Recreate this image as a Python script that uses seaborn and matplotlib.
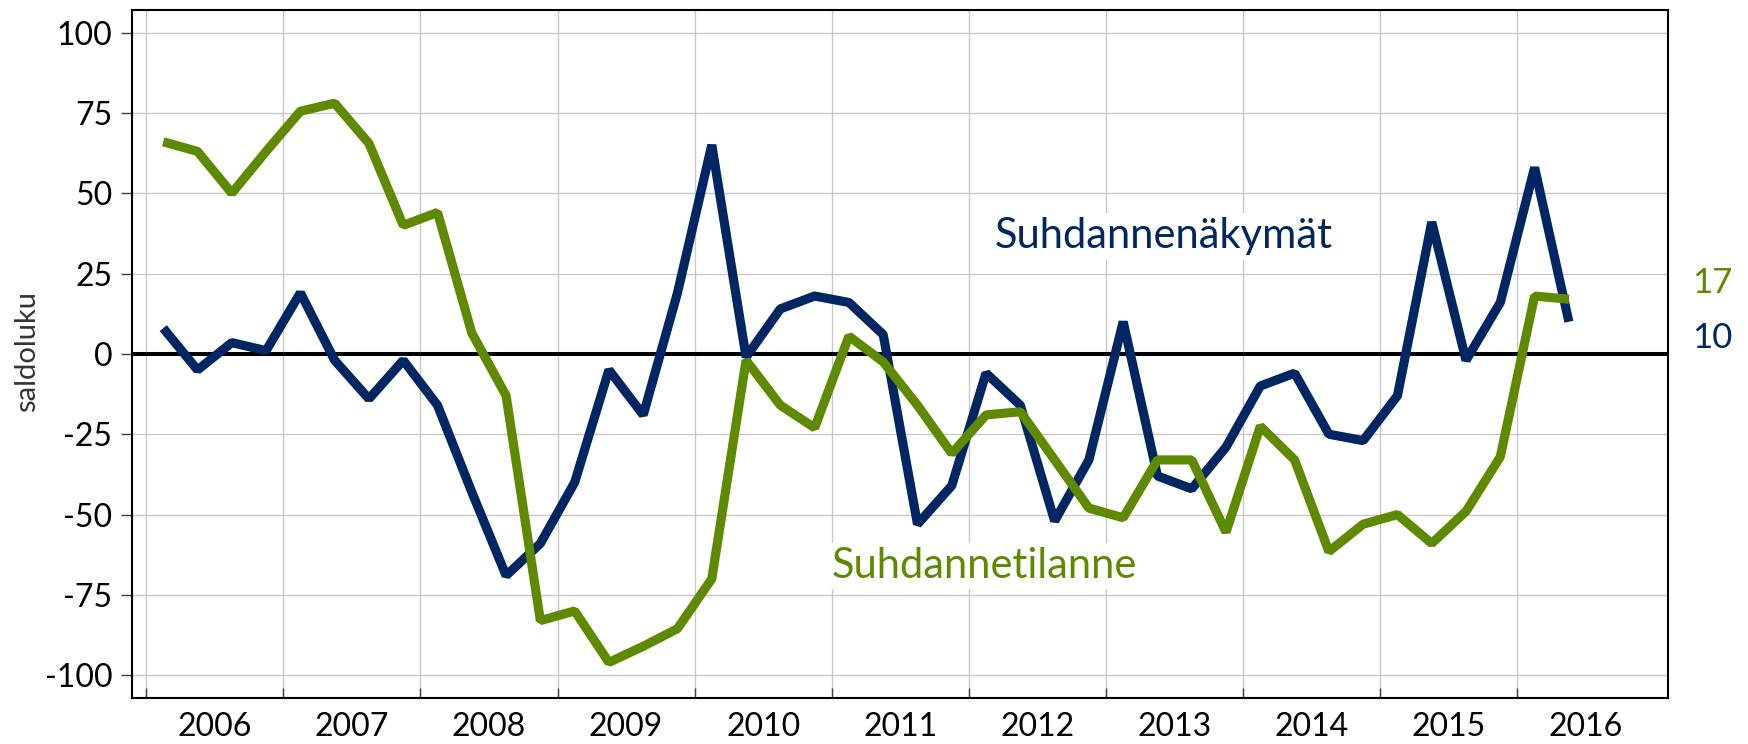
import matplotlib
matplotlib.use("Agg")
import matplotlib.pyplot as plt
from matplotlib.ticker import FixedLocator, NullFormatter
import seaborn as sns
import pandas as pd
import numpy as np

# quarterly data 2006Q1 - 2016Q2
quarters = [f"{y}Q{q}" for y in range(2006, 2017) for q in range(1, 5)][:42]

nakymat = [8, -5, 3.5, 1, 19, -2, -14, -2, -16, -43,
           -69, -59, -40, -5, -19, 19, 65, -1, 14, 18,
           16, 6, -53, -41, -6, -16, -52, -33, 10, -38,
           -42, -29, -10, -6, -25, -27, -13, 41, -2, 16,
           58, 10]

tilanne = [66, 63, 50, 63, 75.5, 78, 65.5, 40, 44, 6.5,
           -13, -83, -80, -96, -91, -85.5, -70, -2, -16, -23,
           5.5, -2.5, -16, -31, -19, -18, -33, -48, -51, -33,
           -33, -55.5, -22.5, -33, -61.5, -53, -50, -59, -49, -32,
           18, 17]

years = list(range(2006, 2017))
y_ticks = [-100, -75, -50, -25, 0, 25, 50, 75, 100]

NAVY = "#002663"
GREEN = "#5e8a00"

df = pd.DataFrame({
    "q": np.arange(len(quarters)),
    "Suhdannenäkymät": nakymat,
    "Suhdannetilanne": tilanne,
})

sns.set_theme(style="white")
plt.rcParams["font.family"] = ["Lato", "DejaVu Sans"]

fig = plt.figure(figsize=(17.49, 7.44), dpi=100)
ax = fig.add_axes([0.0753, 0.0622, 0.87856, 0.92433])

line_kw = dict(linewidth=6.6, solid_joinstyle="bevel", solid_capstyle="butt")
sns.lineplot(data=df, x="q", y="Suhdannenäkymät", color=NAVY, ax=ax, zorder=4, **line_kw)
sns.lineplot(data=df, x="q", y="Suhdannetilanne", color=GREEN, ax=ax, zorder=5, **line_kw)

ax.axhline(0, color="black", linewidth=2.9, zorder=3)

ax.set_xlim(-0.92, 43.9)
ax.set_ylim(-107, 107)

# year boundaries as major ticks / gridlines, labels in the middle of each year
bounds = [(y - 2006) * 4 - 0.5 for y in years]
mids = [(y - 2006) * 4 + 1.5 for y in years]
ax.xaxis.set_major_locator(FixedLocator(bounds))
ax.xaxis.set_major_formatter(NullFormatter())
ax.xaxis.set_minor_locator(FixedLocator(mids))
ax.set_xticklabels([str(y) for y in years], minor=True)
ax.tick_params(axis="x", which="major", direction="in", length=7.2, width=1.0,
               color="#404040", bottom=True)
ax.tick_params(axis="x", which="minor", length=0, pad=10, labelsize=23,
               labelcolor="black", bottom=True)

ax.set_yticks(y_ticks)
ax.set_yticklabels([str(v) for v in y_ticks])
ax.tick_params(axis="y", direction="out", length=8, width=1.0, color="#404040",
               pad=6, labelsize=23, labelcolor="black", left=True)

ax.grid(True, which="major", color="#c8c8c8", linewidth=1.0, zorder=0)
ax.set_axisbelow(True)

for s in ax.spines.values():
    s.set_visible(True)
    s.set_color("black")
    s.set_linewidth(1.5)

ax.set_xlabel("")
ax.set_ylabel("")
fig.text(27 / 1749, 1 - 351 / 744, "saldoluku", rotation=90, ha="center",
         va="center", fontsize=21, color="#333333")

box = dict(facecolor="white", edgecolor="none", pad=3)
ax.text(29.17, 32.8, "Suhdannenäkymät", color=NAVY, fontsize=30,
        ha="center", va="baseline", bbox=box, zorder=2)
ax.text(23.95, -69.7, "Suhdannetilanne", color=GREEN, fontsize=30,
        ha="center", va="baseline", bbox=box, zorder=2)

ax.text(44.6, 22, f"{tilanne[-1]:.0f}", color=GREEN, fontsize=25,
        ha="left", va="center", clip_on=False)
ax.text(44.6, 4.9, f"{nakymat[-1]:.0f}", color=NAVY, fontsize=25,
        ha="left", va="center", clip_on=False)

fig.savefig("out.png", dpi=100)
